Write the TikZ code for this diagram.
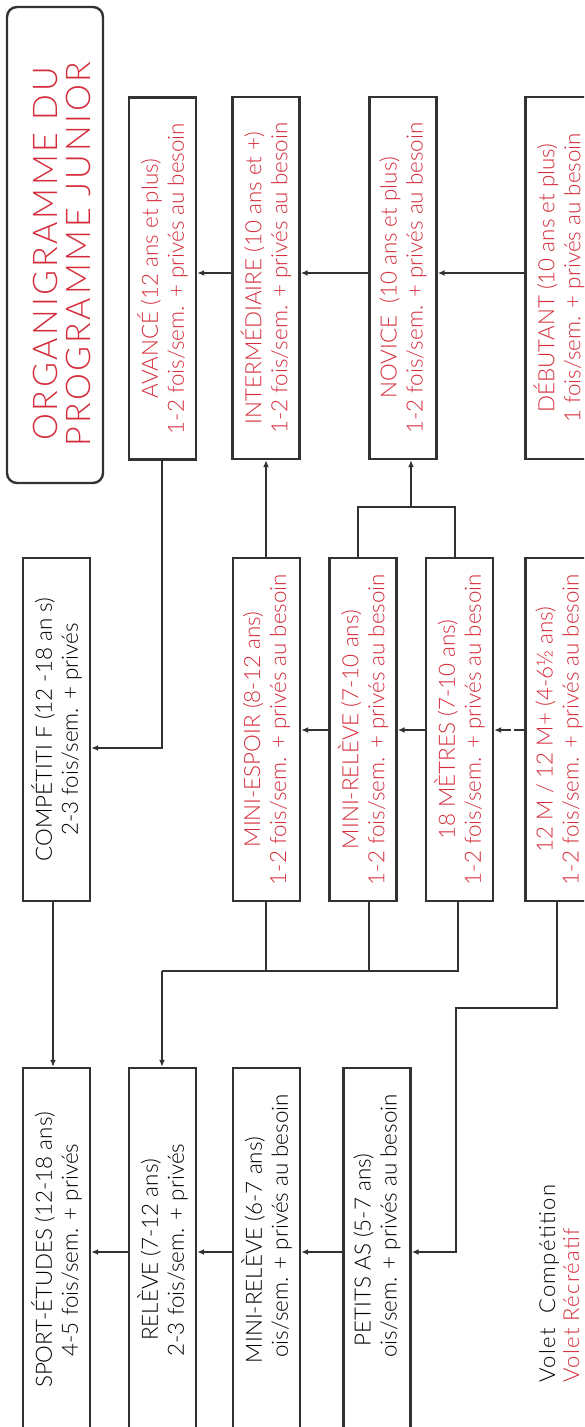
\documentclass[tikz,border=0pt]{standalone}
\usepackage{fontspec}
\setmainfont{Lato Light}
\usetikzlibrary{arrows.meta}
\definecolor{rouge}{RGB}{212,44,58}
\definecolor{trait}{RGB}{50,50,50}
\tikzset{
  x=0.5pt, y=-0.5pt,
  boite/.style={draw=trait, line width=1.2pt, inner sep=0pt, minimum width=33.5pt},
  rangA/.style={minimum height=181pt},
  rangB/.style={minimum height=171.5pt},
  rangC/.style={minimum height=182pt},
  txt/.style={rotate=90, align=center, inner sep=0pt, font=\fontsize{11.2}{13}\selectfont},
  rec/.style={txt, text=rouge},
  comp/.style={txt, text=black},
  leg/.style={rotate=90, anchor=base west, inner sep=0pt, font=\fontsize{11}{13}\selectfont\addfontfeatures{LetterSpace=6}},
  fl/.style={draw=trait, line width=1pt, -{Latex[length=3.5pt,width=3pt]}},
  ln/.style={draw=trait, line width=1pt},
}
\begin{document}
\begin{tikzpicture}
\useasboundingbox (0,0) rectangle (584,1427);
\clip (0,0) rectangle (584,1427);
% title
\node[draw=trait, line width=1.2pt, rounded corners=5pt, minimum width=48pt, minimum height=238pt, inner sep=0pt] (titre) at (55,245) {};
\node[rotate=90, align=center, inner sep=0pt, text=rouge, font=\fontsize{17}{16.5}\selectfont\addfontfeatures{LetterSpace=8}] (titret) at (62,254) {ORGANIGRAMME DU\\PROGRAMME JUNIOR};
% row A
\node[boite, rangA] (avance) at (162.5,278.5) {};
\node[boite, rangA] (inter) at (266,278) {};
\node[boite, rangA] (novice) at (403,278) {};
\node[boite, rangA] (debutant) at (559,278) {};
% row B
\node[boite, rangB] (competitif) at (56.5,729.5) {};
\node[boite, rangB] (espoir) at (266.5,729.5) {};
\node[boite, rangB] (minirel) at (363,729.5) {};
\node[boite, rangB] (metres) at (459.5,729.5) {};
\node[boite, rangB] (douzem) at (559,729.5) {};
% row C
\node[boite, rangC] (sport) at (56.5,1250) {};
\node[boite, rangC] (releve) at (162.5,1250) {};
\node[boite, rangC] (minirelsix) at (266.5,1250) {};
\node[boite, rangC] (petits) at (377,1250) {};
% texts
\node[rec] (avancet) at (avance.center) {AVANCÉ (12 ans et plus)\\1-2 fois/sem. + privés au besoin};
\node[rec] (intert) at (inter.center) {INTERMÉDIAIRE (10 ans et +)\\1-2 fois/sem. + privés au besoin};
\node[rec] (novicet) at (novice.center) {NOVICE \ (10 ans et plus)\\1-2 fois/sem. + privés au besoin};
\node[rec] (debutantt) at (debutant.center) {DÉBUTANT (10 ans et plus)\\1 fois/sem. + privés au besoin};
\node[comp] (competitift) at (competitif.center) {COMPÉTITI F (12 -18 an s)\\2-3 fois/sem. + privés};
\node[rec] (espoirt) at (espoir.center) {MINI-ESPOIR (8-12 ans)\\1-2 fois/sem. + privés au besoin};
\node[rec] (minirelt) at (minirel.center) {MINI-RELÈVE (7-10 ans)\\1-2 fois/sem. + privés au besoin};
\node[rec] (metrest) at (metres.center) {18 MÈTRES (7-10 ans)\\1-2 fois/sem. + privés au besoin};
\node[rec] (douzemt) at (douzem.center) {12 M / 12 M+ (4-6½ ans)\\1-2 fois/sem. + privés au besoin};
\node[comp] (sportt) at (sport.center) {SPORT-ÉTUDES (12-18 ans)\\4-5 fois/sem. + privés};
\node[comp] (relevet) at (releve.center) {RELÈVE (7-12 ans)\\2-3 fois/sem. + privés};
\node[comp] (minirelsixt) at (minirelsix.center) {MINI-RELÈVE (6-7 ans)\\\phantom{1-2 f}ois/sem. + privés au besoin};
\node[comp] (petitst) at (petits.center) {PETITS AS (5-7 ans)\\\phantom{1-2 f}ois/sem. + privés au besoin};
% legend
\node[leg] (legc) at (555,1383) {Volet \ Compétition};
\node[leg, text=rouge] (legr) at (579,1383) {Volet Récréatif};
% helper coordinates
\coordinate (yA) at (0,273);
\coordinate (yB) at (0,730);
\coordinate (yC) at (0,1252);
\coordinate (c1) at (162,748);
\coordinate (j1) at (358,507);
\coordinate (j2) at (455,507);
\coordinate (j3) at (411,507);
\coordinate (b1) at (162,971);
\coordinate (b2) at (266,971);
\coordinate (b3) at (369,971);
\coordinate (b4) at (458,971);
\coordinate (d1) at (557,1008);
\coordinate (d2) at (456,1008);
\coordinate (d3) at (456,1252);
\coordinate (e1) at (53,0);
% row A arrows
\draw[fl] (debutant.west |- yA) -- (novice.east |- yA);
\draw[fl] (novice.west |- yA) -- (inter.east |- yA);
\draw[fl] (inter.west |- yA) -- (avance.east |- yA);
% row B arrows
\draw[fl] (minirel.west |- yB) -- (espoir.east |- yB);
\draw[fl] (metres.west |- yB) -- (minirel.east |- yB);
\draw[fl, dash pattern=on 5pt off 1.5pt] (douzem.west |- yB) -- (metres.east |- yB);
% row C arrows
\draw[fl] (petits.west |- yC) -- (minirelsix.east |- yC);
\draw[fl] (minirelsix.west |- yC) -- (releve.east |- yC);
\draw[fl] (releve.west |- yC) -- (sport.east |- yC);
% vertical connections
\draw[fl] (c1 |- avance.south) -- (c1) -- (competitif.east |- c1);
\draw[fl] (b2 |- espoir.north) -- (b2 |- inter.south);
\draw[ln] (j1 |- minirel.north) -- (j1) -- (j2) -- (j2 |- metres.north);
\draw[fl] (j3) -- (j3 |- novice.south);
\draw[fl] (e1 |- competitif.south) -- (e1 |- sport.north);
\draw[ln] (b2 |- espoir.south) -- (b2);
\draw[ln] (b3 |- minirel.south) -- (b3);
\draw[ln] (b4 |- metres.south) -- (b4) -- (b1);
\draw[fl] (b1) -- (b1 |- releve.north);
\draw[fl] (d1 |- douzem.south) -- (d1) -- (d2) -- (d3) -- (petits.east |- d3);
\end{tikzpicture}
\end{document}
